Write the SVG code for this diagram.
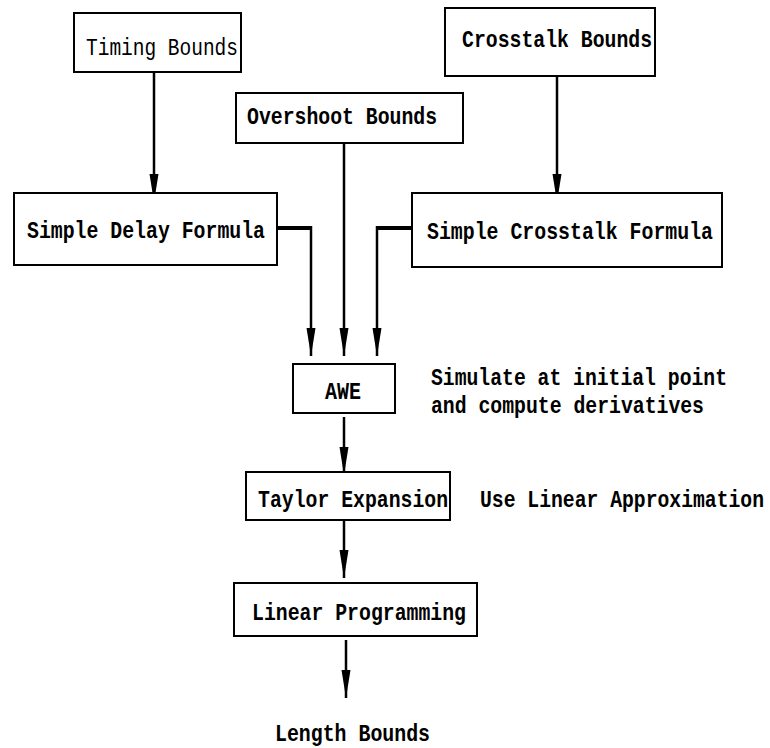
<svg xmlns="http://www.w3.org/2000/svg" width="770" height="748" viewBox="0 0 770 748">
  <style>
    .box { fill: #fff; stroke: #000; stroke-width: 2; }
    .lbl { font-family: "Liberation Mono", "Courier New", monospace; font-size: 24px; font-weight: bold; fill: #000; }
    .thin { font-weight: normal; }
    .wire { stroke: #000; stroke-width: 2.5; fill: none; }
    .bar { stroke: #000; stroke-width: 4; fill: none; }
  </style>
  <defs>
    <marker id="head" markerUnits="userSpaceOnUse" markerWidth="30" markerHeight="12" refX="28" refY="4.5" orient="auto">
      <path d="M0,0 L28,4.5 L0,9 Z" fill="#000"/>
    </marker>
  </defs>

  <rect width="770" height="748" fill="#fff"/>

  <g id="connectors">
    <line class="wire" x1="154" y1="72" x2="154" y2="202" marker-end="url(#head)"/>
    <line class="wire" x1="557" y1="76" x2="557" y2="202" marker-end="url(#head)"/>
    <line class="wire" x1="344" y1="143" x2="344" y2="356" marker-end="url(#head)"/>
    <line class="bar" x1="277" y1="228" x2="312" y2="228"/>
    <line class="wire" x1="311" y1="226" x2="311" y2="356" marker-end="url(#head)"/>
    <line class="bar" x1="412" y1="228" x2="376" y2="228"/>
    <line class="wire" x1="377" y1="226" x2="377" y2="356" marker-end="url(#head)"/>
    <line class="wire" x1="344" y1="417" x2="344" y2="475" marker-end="url(#head)"/>
    <line class="wire" x1="344" y1="520" x2="344" y2="578" marker-end="url(#head)"/>
    <line class="wire" x1="346" y1="640" x2="346" y2="698" marker-end="url(#head)"/>
  </g>

  <g id="timing-bounds">
    <rect class="box" x="74" y="13" width="167" height="59"/>
    <text class="lbl thin" x="86" y="55" textLength="152" lengthAdjust="spacingAndGlyphs">Timing Bounds</text>
  </g>

  <g id="overshoot-bounds">
    <rect class="box" x="236" y="93" width="227" height="50"/>
    <text class="lbl" x="247" y="124" textLength="190" lengthAdjust="spacingAndGlyphs">Overshoot Bounds</text>
  </g>

  <g id="crosstalk-bounds">
    <rect class="box" x="445" y="8" width="210" height="68"/>
    <text class="lbl" x="462" y="47" textLength="190" lengthAdjust="spacingAndGlyphs">Crosstalk Bounds</text>
  </g>

  <g id="simple-delay-formula">
    <rect class="box" x="14" y="193" width="263" height="72"/>
    <text class="lbl" x="27" y="238" textLength="238" lengthAdjust="spacingAndGlyphs">Simple Delay Formula</text>
  </g>

  <g id="simple-crosstalk-formula">
    <rect class="box" x="412" y="193" width="310" height="74"/>
    <text class="lbl" x="427" y="239" textLength="286" lengthAdjust="spacingAndGlyphs">Simple Crosstalk Formula</text>
  </g>

  <g id="awe">
    <rect class="box" x="293" y="364" width="102" height="49"/>
    <text class="lbl" x="325" y="399" textLength="36" lengthAdjust="spacingAndGlyphs">AWE</text>
  </g>

  <g id="awe-note">
    <text class="lbl" x="431" y="385" textLength="296" lengthAdjust="spacingAndGlyphs">Simulate at initial point</text>
    <text class="lbl" x="431" y="413" textLength="273" lengthAdjust="spacingAndGlyphs">and compute derivatives</text>
  </g>

  <g id="taylor-expansion">
    <rect class="box" x="246" y="472" width="204" height="48"/>
    <text class="lbl" x="258" y="507" textLength="190" lengthAdjust="spacingAndGlyphs">Taylor Expansion</text>
  </g>

  <g id="taylor-note">
    <text class="lbl" x="480" y="507" textLength="284" lengthAdjust="spacingAndGlyphs">Use Linear Approximation</text>
  </g>

  <g id="linear-programming">
    <rect class="box" x="234" y="583" width="243" height="53"/>
    <text class="lbl" x="252" y="620" textLength="214" lengthAdjust="spacingAndGlyphs">Linear Programming</text>
  </g>

  <g id="length-bounds">
    <text class="lbl" x="275" y="741" textLength="155" lengthAdjust="spacingAndGlyphs">Length Bounds</text>
  </g>
</svg>
